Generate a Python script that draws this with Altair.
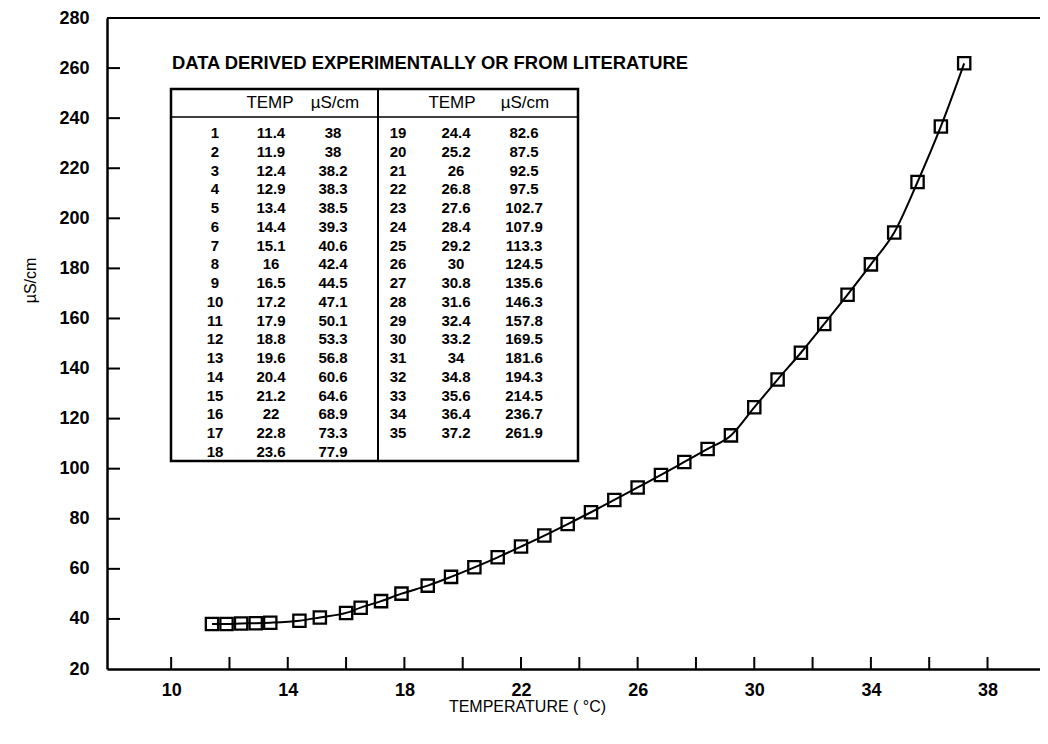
import altair as alt
import pandas as pd

# ---- data ----
temps = [11.4, 11.9, 12.4, 12.9, 13.4, 14.4, 15.1, 16, 16.5, 17.2, 17.9, 18.8,
         19.6, 20.4, 21.2, 22, 22.8, 23.6, 24.4, 25.2, 26, 26.8, 27.6, 28.4,
         29.2, 30, 30.8, 31.6, 32.4, 33.2, 34, 34.8, 35.6, 36.4, 37.2]
conds = [38, 38, 38.2, 38.3, 38.5, 39.3, 40.6, 42.4, 44.5, 47.1, 50.1, 53.3,
         56.8, 60.6, 64.6, 68.9, 73.3, 77.9, 82.6, 87.5, 92.5, 97.5, 102.7, 107.9,
         113.3, 124.5, 135.6, 146.3, 157.8, 169.5, 181.6, 194.3, 214.5, 236.7, 261.9]
x_labels = [10, 14, 18, 22, 26, 30, 34, 38]
x_ticks = [10, 12, 14, 16, 18, 20, 22, 24, 26, 28, 30, 32, 34, 36, 38]
y_labels = [20, 40, 60, 80, 100, 120, 140, 160, 180, 200, 220, 240, 260, 280]
y_ticks = [40, 60, 80, 100, 120, 140, 160, 180, 200, 220, 240, 260]
table_title = "DATA DERIVED EXPERIMENTALLY OR FROM LITERATURE"
header_temp = "TEMP"
header_cond = "\u00b5S/cm"

W, H = 933, 651
XDOM = [7.8, 39.8]
YDOM = [20, 280]
FONT = "Liberation Sans"
T = 10  # top padding

df = pd.DataFrame({"temp": temps, "cond": conds})
n = len(temps)
tbl = pd.DataFrame({
    "idx": [str(i + 1) for i in range(n)],
    "temp_s": [f"{t:g}" for t in temps],
    "cond_s": [f"{c:g}" for c in conds],
    "half": [0 if i < 18 else 1 for i in range(n)],
    "row": [i if i < 18 else i - 18 for i in range(n)],
})

xs = alt.Scale(domain=XDOM, nice=False, zero=False)
ys = alt.Scale(domain=YDOM, nice=False, zero=False)

xaxis = alt.Axis(values=x_labels, ticks=False, grid=False, labelPadding=12,
                 title="TEMPERATURE ( \u00b0C)", titleX=420, titleY=37,
                 titleBaseline="middle", titleAlign="center")
yaxis = alt.Axis(values=y_labels, ticks=False, grid=False, labelPadding=18,
                 title="\u00b5S/cm", titleX=-77, titleY=262, titleAngle=-90,
                 titleAlign="center", titleBaseline="middle")

line = alt.Chart(df).mark_line(interpolate="monotone", color="black", strokeWidth=2).encode(
    x=alt.X("temp:Q", scale=xs, axis=xaxis),
    y=alt.Y("cond:Q", scale=ys, axis=yaxis),
)
pts = alt.Chart(df).mark_point(shape="square", size=150, filled=False, color="black",
                               strokeWidth=2.3, opacity=1).encode(
    x=alt.X("temp:Q", scale=xs),
    y=alt.Y("cond:Q", scale=ys),
)

xt = alt.Chart(pd.DataFrame({"v": x_ticks})).mark_rule(color="black", strokeWidth=2).encode(
    x=alt.X("v:Q", scale=xs), y=alt.value(H), y2=alt.value(H - 12))
yt = alt.Chart(pd.DataFrame({"v": y_ticks})).mark_rule(color="black", strokeWidth=2).encode(
    y=alt.Y("v:Q", scale=ys), x=alt.value(0), x2=alt.value(13))

one = pd.DataFrame({"a": [0]})
top = alt.Chart(one).mark_rule(color="black", strokeWidth=2).encode(
    y=alt.datum(280, scale=ys), x=alt.value(0), x2=alt.value(W + 10))

# inset table frame
box = alt.Chart(one).mark_rect(fill="white", stroke="black", strokeWidth=2.5).encode(
    x=alt.value(64), x2=alt.value(471), y=alt.value(71), y2=alt.value(443))
hline = alt.Chart(one).mark_rule(color="black", strokeWidth=1.5).encode(
    x=alt.value(64), x2=alt.value(471), y=alt.value(99))
vline = alt.Chart(one).mark_rule(color="black", strokeWidth=2).encode(
    x=alt.value(271), y=alt.value(71), y2=alt.value(443))

ttitle = alt.Chart(one).mark_text(text=table_title, font=FONT, fontSize=18.4, fontWeight="bold",
                                  align="left", baseline="middle", color="black").encode(
    x=alt.value(65), y=alt.value(45))

def hdr(txt, xpx):
    return alt.Chart(one).mark_text(text=txt, font=FONT, fontSize=17, align="center",
                                    baseline="middle", color="black").encode(
        x=alt.value(xpx), y=alt.value(85))

headers = [hdr(header_temp, 163), hdr(header_cond, 228), hdr(header_temp, 345), hdr(header_cond, 418)]

main = alt.layer(box, hline, vline, ttitle, *headers, line, pts, xt, yt, top)

rowscale = alt.Scale(type="point", domain=list(range(18)), range=[115, 434], padding=0)

def col(field, half, xpx):
    return alt.Chart(tbl).transform_filter(alt.datum.half == half).mark_text(
        font=FONT, fontSize=15, fontWeight="bold", align="center", baseline="middle",
        color="black").encode(
        x=alt.value(xpx),
        y=alt.Y("row:O", scale=rowscale, axis=None),
        text=alt.Text(f"{field}:N"),
    )

cols = alt.layer(
    col("idx", 0, 108), col("temp_s", 0, 164), col("cond_s", 0, 226),
    col("idx", 1, 291), col("temp_s", 1, 349), col("cond_s", 1, 417),
)

chart = alt.layer(main, cols).resolve_scale(y="independent").properties(
    width=W, height=H,
    autosize=alt.AutoSizeParams(type="none"),
    padding={"left": 99, "top": T, "right": 0, "bottom": 60},
).configure_view(stroke=None).configure_axis(
    domainColor="black", domainWidth=2.5, labelColor="black", labelFont=FONT,
    labelFontSize=18, labelFontWeight="bold", titleFont=FONT, titleFontSize=16,
    titleFontWeight="normal", titleColor="black",
)

chart.save("out.html", embed_options={"renderer": "svg", "actions": False})
